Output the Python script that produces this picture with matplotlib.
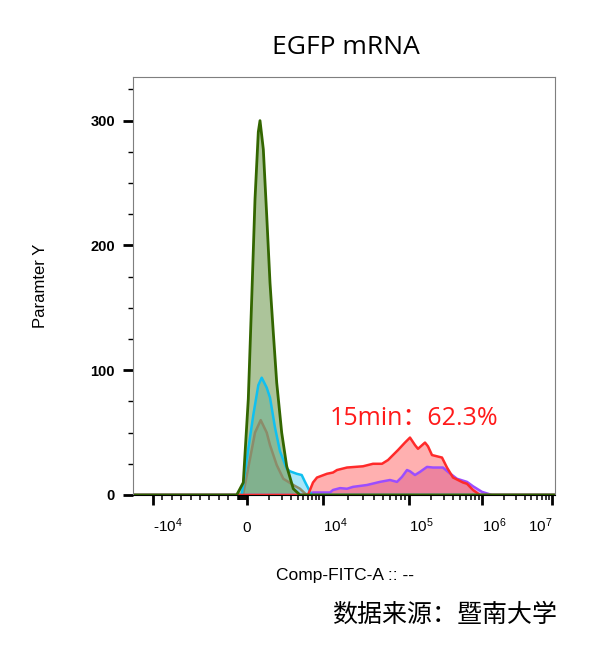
import numpy as np
import matplotlib
matplotlib.use("Agg")
import matplotlib.pyplot as plt
from matplotlib.ticker import FixedLocator, MultipleLocator, NullFormatter

plt.rcParams['font.family'] = ['Liberation Sans', 'Noto Sans CJK SC', 'DejaVu Sans']
plt.rcParams['mathtext.fontset'] = 'custom'
plt.rcParams['mathtext.rm'] = 'Liberation Sans'
plt.rcParams['mathtext.it'] = 'Liberation Sans'

# ---------------- data (FITC intensity, counts) ----------------
green_x = [-1096, -394, 42, 161, 289, 432, 511, 679, 870, 1076, 1306, 1569, 2010, 2528, 3351, 4383]
green_y = [0, 10, 77, 157, 237, 291, 300, 277, 224, 170, 130, 90, 50, 23, 5, 0]

cyan_x = [-564, 42, 221, 432, 595, 870, 1076, 1433, 1852, 2528, 2919, 3848, 4683, 5310, 6804]
cyan_y = [0, 37, 64, 88, 94, 86, 78, 54, 35, 21, 19, 17, 16, 10.5, 0]

grey_x = [-426, 100, 289, 545, 870, 1076, 1569, 2167, 3351, 4383, 5660]
grey_y = [0, 29, 50, 60, 50, 40, 24, 13, 8, 5, 0]

red_x = [5940, 7135, 8238, 11340, 13380, 14920, 19540, 29870, 38830, 49120, 57410, 65320,
         74340, 89040, 101600, 119000, 130900, 163400, 179600, 203800, 238600, 279400,
         327100, 395200, 541500, 614000, 741800, 924400]
red_y = [0, 10, 14, 17, 18, 20, 22, 23, 25, 25, 28, 32, 36, 42, 46, 40, 37, 42, 39, 32,
         31, 30, 22, 14, 10, 9, 4, 0]

purple_x = [5724, 7135, 12320, 13380, 16190, 19540, 22930, 33190, 46620, 60430, 72450,
            82420, 93770, 101600, 119000, 139500, 174000, 210300, 288300, 337600, 448100,
            614000, 741800, 984400, 1367000]
purple_y = [0, 2, 2, 4, 5.5, 5, 6.5, 8, 10.5, 12, 10.5, 14.5, 20, 19, 16, 18.5, 22.5, 22,
            22, 18.5, 13, 10.5, 7, 2.5, 0]

major_x = [-1e4, 0, 1e4, 1e5, 1e6, 1e7]
major_x_labels = ['-$10^{4}$', '0', '$10^{4}$', '$10^{5}$', '$10^{6}$', '$10^{7}$']
y_major = [0, 100, 200, 300]

X_MIN, X_MAX = -12130, 1.0856e7
Y_MAX = 335

# ---------------- biexponential-like axis ----------------
T_ANCH = np.array([-1.5, -1.0, 0.0, np.log10(11), np.log10(101), np.log10(1001), np.log10(10001), 4.5])
P_ANCH = np.array([106.0, 153.0, 247.0, 322.5, 409.5, 482.5, 552.5, 587.5])


def to_t(x):
    x = np.asarray(x, dtype=float)
    return np.where(x < 0, x / 1e4, np.log10(1 + np.abs(x) / 1000))


def forward(x):
    return np.interp(to_t(x), T_ANCH, P_ANCH)


def inverse(p):
    t = np.interp(p, P_ANCH, T_ANCH)
    return np.where(t < 0, t * 1e4, 1000 * (10 ** np.clip(t, 0, None) - 1))


fig = plt.figure(figsize=(5.94, 6.55), dpi=100)
ax = fig.add_axes([0.2239, 0.2443, 0.7104, 0.6382])
ax.set_xscale('function', functions=(forward, inverse))


def draw(xs, ys, line, fill, alpha, lw=1.8):
    xs = np.concatenate([[X_MIN], xs, [X_MAX]])
    ys = np.concatenate([[0], ys, [0]])
    ax.fill_between(xs, 0, ys, color=fill, alpha=alpha, lw=0)
    ax.plot(xs, ys, color=line, lw=lw, solid_joinstyle='round')


draw(purple_x, purple_y, '#9b4dff', '#c060c0', 0.5)
draw(grey_x, grey_y, '#8c8c6a', '#8c8c8c', 0.35)
draw(cyan_x, cyan_y, '#10c0f0', '#40c8f0', 0.45)
draw(red_x, red_y, '#ff2a2a', '#ff5050', 0.45)
draw(green_x, green_y, '#336600', '#769d57', 0.6, lw=2.0)

ax.set_xlim(X_MIN, X_MAX)
ax.set_ylim(0, Y_MAX)

# ticks
minor_x = ([-v for v in range(1000, 10000, 1000)] + [-v for v in range(100, 1000, 100)] +
           list(range(1000, 10000, 1000)) + [k * 10 ** e for e in (4, 5, 6) for k in range(2, 10)])
ax.xaxis.set_major_locator(FixedLocator(major_x))
ax.xaxis.set_minor_locator(FixedLocator(minor_x))
ax.xaxis.set_minor_formatter(NullFormatter())
ax.set_xticklabels(major_x_labels)
ax.yaxis.set_major_locator(FixedLocator(y_major))
ax.yaxis.set_minor_locator(MultipleLocator(25))

ax.tick_params(axis='x', which='major', length=7, width=2.0, pad=20, labelsize=11, colors='black')
ax.tick_params(axis='x', which='minor', length=3.5, width=1.1)
ax.tick_params(axis='y', which='major', length=7, width=2.0, pad=6, labelsize=10.5)
ax.tick_params(axis='y', which='minor', length=3.5, width=1.0)

aligns = ['left', 'center', 'left', 'left', 'left', 'right']
for lab, ha in zip(ax.get_xticklabels(), aligns):
    lab.set_ha(ha)
    lab.set_va('baseline')
for lab in ax.get_yticklabels():
    lab.set_fontweight('bold')

for side in ('left', 'top', 'right'):
    ax.spines[side].set_color('#7f7f7f')
    ax.spines[side].set_linewidth(0.8)
ax.spines['bottom'].set_color('black')

ax.set_xlabel('Comp-FITC-A :: --', fontsize=12.5, va='center')
ax.xaxis.set_label_coords(0.502, -0.193)
ax.set_ylabel('Paramter Y', fontsize=12, va='center')
ax.yaxis.set_label_coords(-0.22, 0.5)

fig.text(0.5816, 0.9282, 'EGFP mRNA', fontsize=19, ha='center', va='center',
         family=['Open Sans', 'Noto Sans CJK SC'])
fig.text(0.697, 0.3618, '15min：62.3%', fontsize=18, color='#ff1a1a', ha='center', va='center',
         family=['Open Sans', 'Noto Sans CJK SC'])
fig.text(0.749, 0.062, '数据来源：暨南大学', fontsize=18, ha='center', va='center',
         family=['Noto Sans CJK SC', 'DejaVu Sans'])

fig.savefig('out.png', dpi=100)
